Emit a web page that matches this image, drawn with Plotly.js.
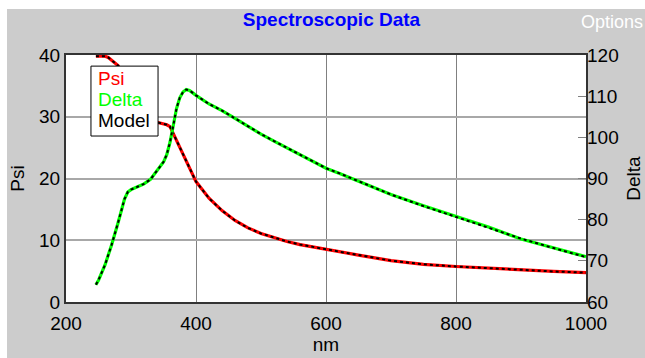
<!DOCTYPE html>
<html>
<head>
<meta charset="utf-8">
<script src="https://cdn.plot.ly/plotly-3.0.1.min.js"></script>
<style>
  html, body { margin: 0; padding: 0; background: #ffffff; width: 645px; height: 358px; overflow: hidden; }
  #chart { position: absolute; left: 7px; top: 9px; width: 638px; height: 349px; }
</style>
</head>
<body>
<div id="chart"></div>
<script>
// Wavelength (nm)
const wavelength = [246,250,260,265,270,280,290,295,300,310,320,330,340,350,355,360,365,370,375,380,385,390,395,400,420,440,460,480,500,520,540,560,580,600,620,650,700,750,800,850,900,950,1000];

// Measured data
const psiData = [39.8,39.8,39.8,39.6,39.2,38.3,36.6,35.6,34.6,32.6,31.0,29.9,29.1,28.8,28.7,28.4,27.3,26.1,25.0,23.9,22.9,21.9,20.6,19.5,16.8,14.8,13.2,12.0,11.1,10.4,9.8,9.3,8.9,8.5,8.1,7.6,6.7,6.1,5.75,5.45,5.2,4.95,4.75];
const deltaData = [64.2,65.3,69.0,71.3,73.8,79.2,85.0,86.7,87.3,88.0,88.7,89.8,91.8,94.0,95.8,98.8,102.8,107.0,109.6,111.0,111.6,111.4,110.8,110.2,108.1,106.5,104.6,102.6,100.8,99.1,97.5,95.9,94.3,92.5,91.3,89.3,86.1,83.4,80.8,78.2,75.3,73.2,71.0];

// Model fit
const psiModel = [39.8,39.8,39.8,39.6,39.2,38.3,36.6,35.6,34.6,32.6,31.0,29.9,29.1,28.8,28.7,28.4,27.3,26.1,25.0,23.9,22.9,21.9,20.6,19.5,16.8,14.8,13.2,12.0,11.1,10.4,9.8,9.3,8.9,8.5,8.1,7.6,6.7,6.1,5.75,5.45,5.2,4.95,4.75];
const deltaModel = [64.2,65.3,69.0,71.3,73.8,79.2,85.0,86.7,87.3,88.0,88.7,89.8,91.8,94.0,95.8,98.8,102.8,107.0,109.6,111.0,111.6,111.4,110.8,110.2,108.1,106.5,104.6,102.6,100.8,99.1,97.5,95.9,94.3,92.5,91.3,89.3,86.1,83.3,80.7,78.0,75.4,73.1,70.9];

const xTicks = [200,400,600,800,1000];
const psiTicks = [0,10,20,30,40];
const deltaTicks = [60,70,80,90,100,110,120];
const legendLabels = ['Psi', 'Delta', 'Model'];
const legendColors = ['#ff0000', '#00ff00', '#000000'];

const FONT = 'Liberation Sans, Arial, sans-serif';
const FS = 19;

const traces = [
  {x: wavelength, y: psiData, type: 'scatter', mode: 'lines', name: 'Psi',
   line: {color: '#ff0000', width: 3.2}, yaxis: 'y', hoverinfo: 'skip'},
  {x: wavelength, y: deltaData, type: 'scatter', mode: 'lines', name: 'Delta',
   line: {color: '#00ff00', width: 3.2}, yaxis: 'y2', hoverinfo: 'skip'},
  {x: wavelength, y: psiModel, type: 'scatter', mode: 'lines', name: 'Model',
   line: {color: '#000000', width: 2, dash: 'dot'}, yaxis: 'y', hoverinfo: 'skip'},
  {x: wavelength, y: deltaModel, type: 'scatter', mode: 'lines', name: 'Model',
   line: {color: '#000000', width: 2, dash: 'dot'}, yaxis: 'y2', hoverinfo: 'skip'}
];

// legend box pixel positions converted to paper fractions
const legendY = [0.903, 0.818, 0.733];
const legendAnns = legendLabels.map((t, i) => ({
  xref: 'paper', yref: 'paper', x: 0.0577, y: legendY[i], xanchor: 'left', yanchor: 'middle',
  showarrow: false, text: t, font: {family: FONT, size: FS, color: legendColors[i]}
}));

const layout = {
  width: 638, height: 349,
  margin: {l: 59, r: 59, t: 46, b: 56, pad: 0},
  paper_bgcolor: '#cccccc',
  plot_bgcolor: '#ffffff',
  showlegend: false,
  font: {family: FONT, size: FS, color: '#000000'},
  title: {text: '<b>Spectroscopic Data</b>', font: {family: FONT, size: FS, color: '#0000ff'},
          x: 0.5086, xref: 'container', xanchor: 'center', y: 0.97, yref: 'container', yanchor: 'middle'},
  xaxis: {
    range: [200, 1000], tickvals: xTicks, ticktext: xTicks.map(String),
    showgrid: true, gridcolor: '#808080', gridwidth: 1,
    showline: true, linecolor: '#333333', linewidth: 2, mirror: true,
    ticks: '', zeroline: false, ticklabelstandoff: 3,
    tickfont: {family: FONT, size: FS, color: '#000000'},
    title: {text: 'nm', font: {family: FONT, size: FS, color: '#000000'}, standoff: 5}
  },
  yaxis: {
    range: [0, 40], tickvals: psiTicks, ticktext: psiTicks.map(String),
    showgrid: true, gridcolor: '#a8a8a8', gridwidth: 2,
    showline: true, linecolor: '#333333', linewidth: 2, mirror: true,
    ticks: '', zeroline: false,
    tickfont: {family: FONT, size: FS, color: '#000000'},
    title: {text: 'Psi', font: {family: FONT, size: FS, color: '#000000'}, standoff: 10}
  },
  yaxis2: {
    range: [60, 120], tickvals: deltaTicks, ticktext: deltaTicks.map(String),
    overlaying: 'y', side: 'right', showgrid: false, zeroline: false,
    showline: false, ticks: 'inside', ticklen: 8, tickcolor: '#808080', tickwidth: 1,
    tickfont: {family: FONT, size: FS, color: '#000000'},
    title: {text: 'Delta', font: {family: FONT, size: FS, color: '#000000'}, standoff: 8}
  },
  shapes: [
    {type: 'rect', xref: 'paper', yref: 'paper', x0: 0.048, x1: 0.177, y0: 0.672, y1: 0.955,
     fillcolor: '#ffffff', line: {color: '#000000', width: 1}, layer: 'above'}
  ],
  annotations: legendAnns.concat([
    {xref: 'paper', yref: 'paper', x: 0.987, y: 1.134, xanchor: 'left', yanchor: 'middle',
     showarrow: false, text: 'Options', font: {family: FONT, size: 18, color: '#ffffff'}}
  ])
};

Plotly.newPlot('chart', traces, layout, {staticPlot: true, displayModeBar: false});
</script>
</body>
</html>
